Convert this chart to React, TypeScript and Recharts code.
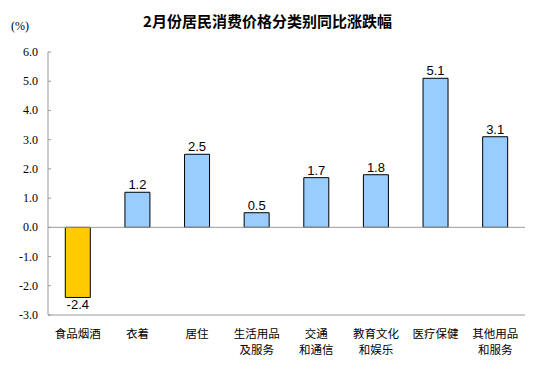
import { BarChart, Bar, XAxis, YAxis, Cell, LabelList, ReferenceLine } from "recharts";

const categories = [
  ["食品烟酒"],
  ["衣着"],
  ["居住"],
  ["生活用品", "及服务"],
  ["交通", "和通信"],
  ["教育文化", "和娱乐"],
  ["医疗保健"],
  ["其他用品", "和服务"],
];
const values = [-2.4, 1.2, 2.5, 0.5, 1.7, 1.8, 5.1, 3.1];
const barColors = ["#FFCC00", "#99CCFF", "#99CCFF", "#99CCFF", "#99CCFF", "#99CCFF", "#99CCFF", "#99CCFF"];
const yTicks = [-3, -2, -1, 0, 1, 2, 3, 4, 5, 6];

const data = categories.map((lines, i) => ({ name: lines.join("\n"), value: values[i] }));

const AXIS_GRAY = "#999999";

function YTick({ x, y, payload }: any) {
  return (
    <g>
      <line x1={x + 8} x2={x + 11} y1={y} y2={y} stroke={AXIS_GRAY} />
      <text
        x={x - 2}
        y={y}
        dy={4}
        textAnchor="end"
        fontSize={12}
        fontFamily="'Liberation Serif', serif"
        fill="#000"
      >
        {payload.value.toFixed(1)}
      </text>
    </g>
  );
}

function XTick({ x, y, payload }: any) {
  const lines = String(payload.value).split("\n");
  return (
    <g>
      {lines.map((l, i) => (
        <text
          key={i}
          x={x}
          y={y + 14.5 + i * 16.5}
          textAnchor="middle"
          fontSize={11.5}
          fontFamily="'Noto Sans CJK SC', sans-serif"
          fill="#000"
        >
          {l}
        </text>
      ))}
    </g>
  );
}

function ValueLabel({ x, y, width, height, value }: any) {
  const neg = value < 0;
  const cx = x + width / 2;
  const top = Math.min(y, y + height);
  const bottom = Math.max(y, y + height);
  const ty = neg ? bottom + 12 : top - 3;
  return (
    <text
      x={cx}
      y={ty}
      textAnchor="middle"
      fontSize={13}
      fontFamily="'Liberation Sans', Arial, sans-serif"
      fill="#000"
    >
      {value.toFixed(1)}
    </text>
  );
}

export default function App() {
  return (
    <div style={{ position: "absolute", left: 0, top: 0, width: 543, height: 375, background: "#fff" }}>
      <div
        style={{
          position: "absolute",
          left: 0,
          width: 543,
          top: 12,
          textAlign: "center",
          fontFamily: "'Noto Sans CJK SC', sans-serif",
          fontWeight: "bold",
          fontSize: 15,
          lineHeight: "18px",
          paddingRight: 8,
          boxSizing: "border-box",
        }}
      >
        2月份居民消费价格分类别同比涨跌幅
      </div>
      <div
        style={{
          position: "absolute",
          left: 11,
          top: 19,
          fontFamily: "'Liberation Serif', serif",
          fontSize: 12,
          lineHeight: "14px",
        }}
      >
        (%)
      </div>
      <BarChart
        width={543}
        height={375}
        data={data}
        margin={{ top: 52, right: 18, bottom: 0, left: 0 }}
        barCategoryGap="29%"
      >
        <XAxis
          xAxisId="b"
          dataKey="name"
          height={60}
          axisLine={{ stroke: AXIS_GRAY }}
          tickLine={false}
          interval={0}
          tick={<XTick />}
        />
        <XAxis xAxisId="t" orientation="top" dataKey="name" height={0} axisLine={{ stroke: AXIS_GRAY }} tick={false} tickLine={false} />
        <YAxis
          yAxisId="l"
          width={48}
          domain={[-3, 6]}
          ticks={yTicks}
          interval={0}
          axisLine={{ stroke: AXIS_GRAY }}
          tickLine={false}
          tick={<YTick />}
        />
        <YAxis yAxisId="r" orientation="right" width={0} domain={[-3, 6]} axisLine={{ stroke: AXIS_GRAY }} tick={false} tickLine={false} />
        <ReferenceLine xAxisId="b" yAxisId="l" y={0} stroke={AXIS_GRAY} />
        <Bar xAxisId="b" yAxisId="l" dataKey="value" stroke="#000" strokeWidth={1} isAnimationActive={false}>
          {data.map((d, i) => (
            <Cell key={d.name} fill={barColors[i]} />
          ))}
          <LabelList dataKey="value" content={<ValueLabel />} />
        </Bar>
      </BarChart>
    </div>
  );
}
